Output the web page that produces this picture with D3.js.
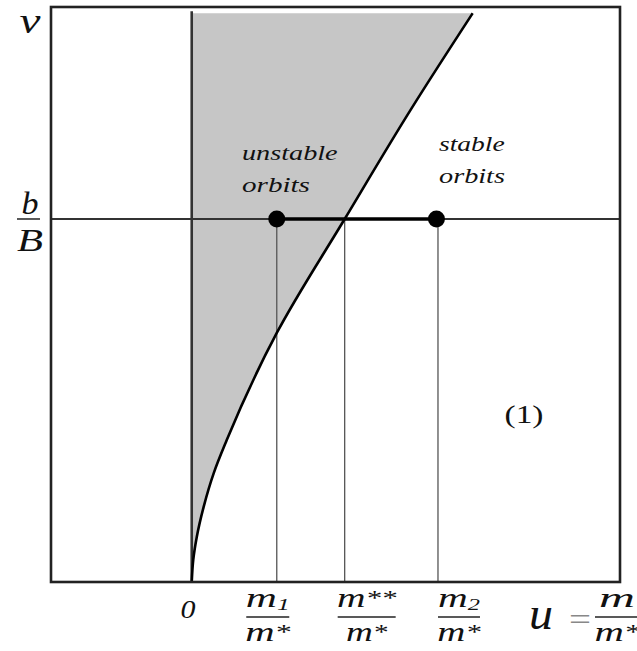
<!DOCTYPE html>
<html>
<head>
<meta charset="utf-8">
<script src="https://cdn.jsdelivr.net/npm/d3@7"></script>
<style>
  html, body { margin: 0; padding: 0; background: #fff; }
  svg { display: block; }
</style>
</head>
<body>
<svg id="chart" width="637" height="651" font-family="Liberation Serif, Times New Roman, serif"></svg>
<script>
// Boundary curve u(v) separating unstable (shaded) and stable orbits
const curveV = [0, 0.061, 0.124, 0.207, 0.300, 0.391, 0.686, 1.0, 1.30, 1.567];
const curveU = [0, 0.010, 0.033, 0.078, 0.144, 0.229, 0.556, 1.0, 1.43, 1.837];

// Marked abscissae: m1/m*, m**/m*, m2/m*
const markU = [0.556, 1.0, 1.61];
// Level v = b/B
const levelV = 1.0;
// Top of the shaded region
const vTop = 1.567;
// Equilibrium points on the level line
const dotU = [0.556, 1.60];

const svg = d3.select("#chart");
const serif = "'Liberation Serif', 'Times New Roman', Times, serif";

const x = d3.scaleLinear().domain([-0.92, 2.8]).range([51, 620]);
const y = d3.scaleLinear().domain([0, 1.584]).range([582, 7]);

const pts = curveV.map((v, i) => ({ u: curveU[i], v }));

// shaded region between the v-axis and the curve
const area = d3.area()
  .y(d => y(d.v))
  .x0(x(0))
  .x1(d => x(d.u))
  .curve(d3.curveMonotoneY);
svg.append("path").datum(pts).attr("d", area).attr("fill", "#c6c6c6");

// vertical guide lines from the level down to the u-axis
svg.selectAll("line.guide").data(markU).join("line")
  .attr("class", "guide")
  .attr("x1", d => x(d)).attr("x2", d => x(d))
  .attr("y1", y(levelV)).attr("y2", y(0))
  .attr("stroke", "#555").attr("stroke-width", 1.3);

// horizontal level line v = b/B
svg.append("line")
  .attr("x1", x(-0.92)).attr("x2", x(2.8))
  .attr("y1", y(levelV)).attr("y2", y(levelV))
  .attr("stroke", "#333").attr("stroke-width", 1.8);

// v-axis
svg.append("line")
  .attr("x1", x(0)).attr("x2", x(0))
  .attr("y1", y(vTop) - 2).attr("y2", y(0))
  .attr("stroke", "#333").attr("stroke-width", 2.6);

// boundary curve
const line = d3.line().x(d => x(d.u)).y(d => y(d.v)).curve(d3.curveMonotoneY);
svg.append("path").datum(pts).attr("d", line)
  .attr("fill", "none").attr("stroke", "#000").attr("stroke-width", 2.6);

// segment between the two points
svg.append("line")
  .attr("x1", x(dotU[0])).attr("x2", x(dotU[1]))
  .attr("y1", y(levelV)).attr("y2", y(levelV))
  .attr("stroke", "#000").attr("stroke-width", 3.6);

svg.selectAll("circle.dot").data(dotU).join("circle")
  .attr("class", "dot")
  .attr("cx", d => x(d)).attr("cy", y(levelV)).attr("r", 8.5)
  .attr("fill", "#000");

// frame
svg.append("rect")
  .attr("x", x(-0.92)).attr("y", y(1.584))
  .attr("width", x(2.8) - x(-0.92)).attr("height", y(0) - y(1.584))
  .attr("fill", "none").attr("stroke", "#222").attr("stroke-width", 2.6);

// ---- labels ----
// place a text at (px, py) and stretch it horizontally to the given width
function fit(sel, px, py, width) {
  const w = sel.node().getBBox().width || width;
  sel.attr("transform", `translate(${px},${py}) scale(${width / w},1)`);
  return sel;
}
function label(str, size, italic, anchor, fill) {
  return svg.append("text")
    .attr("font-family", serif)
    .attr("text-anchor", anchor || "middle")
    .attr("font-size", size)
    .attr("font-style", italic ? "italic" : "normal")
    .attr("fill", fill || "#111")
    .text(str);
}

// axis names
fit(label("v", 36, true), 30, 33, 21);
fit(label("u", 46, true), 541, 629, 24);
fit(label("=", 32, false, "middle", "#888"), 580, 630, 22);

// b / B at the level line
fit(label("b", 31, true), 30, 214, 17);
svg.append("line").attr("x1", 17).attr("x2", 40)
  .attr("y1", y(levelV)).attr("y2", y(levelV))
  .attr("stroke", "#222").attr("stroke-width", 1.5);
fit(label("B", 32, true), 30, 251, 26);

// zero
fit(label("0", 26, true), 188, 618, 15);

// fraction labels under the guide lines
function fraction(cx, sub, sup, numW, denW, barW) {
  const n = label("", 27, true);
  n.append("tspan").text("m");
  if (sub) n.append("tspan").attr("font-size", 16).attr("dy", 3).text(sub);
  if (sup) n.append("tspan").attr("font-size", 21).attr("dy", -2).text(sup);
  fit(n, cx, 607, numW);
  svg.append("line")
    .attr("x1", cx - barW / 2).attr("x2", cx + barW / 2)
    .attr("y1", 617).attr("y2", 617)
    .attr("stroke", "#222").attr("stroke-width", 1.3);
  const d = label("", 27, true);
  d.append("tspan").text("m");
  d.append("tspan").attr("font-size", 21).attr("dy", -2).text("*");
  fit(d, cx, 641, denW);
}
fraction(x(markU[0]) - 9, "1", null, 44, 46, 43);
fraction(x(markU[1]) + 22, null, "**", 60, 42, 58);
fraction(x(markU[2]) + 21, "2", null, 42, 44, 42);
// u = m / m*
fraction(617, null, null, 36, 46, 44);

// region annotations
fit(label("unstable", 22, true, "start"), 242, 160, 96);
fit(label("orbits", 22, true, "start"), 242, 192, 68);
fit(label("stable", 22, true, "start"), 439, 151, 66);
fit(label("orbits", 22, true, "start"), 439, 183, 66);

// region number
fit(label("(1)", 26, false), 524, 423, 39);
</script>
</body>
</html>
